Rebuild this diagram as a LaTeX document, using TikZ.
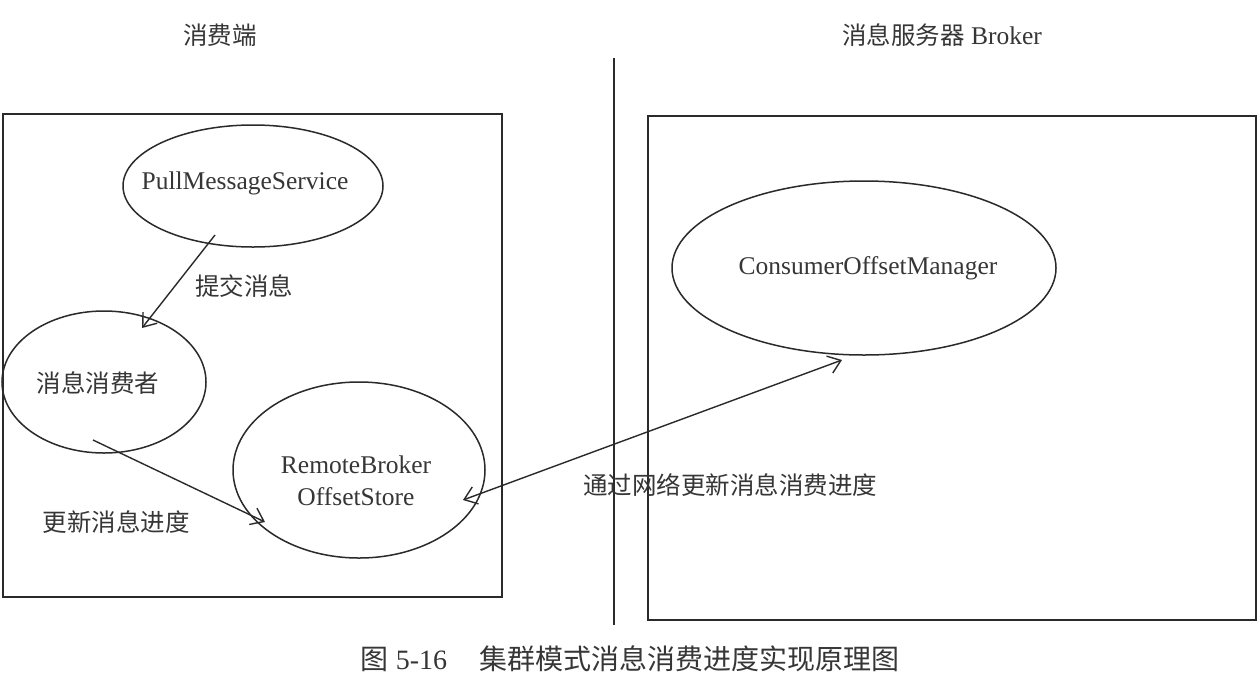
\documentclass[tikz,border=0pt]{standalone}
\usepackage{fontspec}
\setmainfont{Liberation Serif}
\newfontfamily\cjk{Noto Sans CJK SC}
\usetikzlibrary{shapes.geometric,arrows.meta,calc}
\definecolor{ink}{HTML}{2A2A2A}
\definecolor{txt}{HTML}{363636}
\begin{document}
\begin{tikzpicture}[x=1pt,y=-1pt,
  ell/.style={ellipse, draw=ink, line width=1.5pt, inner sep=0pt, outer sep=0pt},
  etxt/.style={inner sep=0pt, text=txt, align=center, font=\fontsize{25.5}{32}\selectfont},
  lbl/.style={inner sep=0pt, text=txt, font=\cjk\fontsize{24.5}{30}\selectfont},
  frame/.style={draw=ink, line width=1.6pt},
  arr/.style={draw=ink, line width=1.4pt, -{Straight Barb[length=12pt,width=18pt]}},
  darr/.style={draw=ink, line width=1.4pt, {Straight Barb[length=12pt,width=18pt]}-{Straight Barb[length=12pt,width=18pt]}}
]
\useasboundingbox (0,0) rectangle (1260,694);
\fill[white] (0,0) rectangle (1260,694);

% headers
\node[lbl] (h1) at (220,35) {消费端};
\node[inner sep=0pt, text=txt, font=\fontsize{25.5}{30}\selectfont] (h2) at (942,35) {{\cjk\fontsize{24.5}{30}\selectfont 消息服务器} Broker};

% divider and frames
\draw[frame] (614,58) -- (614,625);
\draw[frame] (3,114) rectangle (502,597);
\draw[frame] (648,116) rectangle (1256,620);

% ellipses
\node[ell, minimum width=260pt, minimum height=122pt] (pms) at (253,186) {};
\node[etxt] (pmst) at (245,183) {PullMessageService};
\node[ell, minimum width=204pt, minimum height=142pt] (mc) at (104,382) {};
\node[lbl] (mct) at (98,383) {消息消费者};
\node[ell, minimum width=252pt, minimum height=176pt] (rb) at (359,470) {};
\node[etxt] (rbt) at (356,481) {RemoteBroker\\OffsetStore};
\node[ell, minimum width=384pt, minimum height=174pt] (com) at (864,268) {};
\node[etxt] (comt) at (868,268) {ConsumerOffsetManager};

% connectors
\draw[arr] ($(pms.center)+(-38,49)$) -- ($(mc.center)+(38,-54)$);
\draw[arr] ($(mc.center)+(-11,58)$) -- ($(rb.center)+(-94,52)$);
\draw[darr] ($(rb.center)+(104,30)$) -- ($(com.center)+(-22,92)$);

% connector labels
\node[lbl] (l1) at (244,286) {提交消息};
\node[lbl] (l2) at (116,522) {更新消息进度};
\node[lbl] (l3) at (730,485) {通过网络更新消息消费进度};

% caption
\node[inner sep=0pt, text=txt, font=\fontsize{28}{32}\selectfont] (cap) at (630,659)
  {{\cjk 图} 5-16\hspace{32pt}{\cjk 集群模式消息消费进度实现原理图}};
\end{tikzpicture}
\end{document}
